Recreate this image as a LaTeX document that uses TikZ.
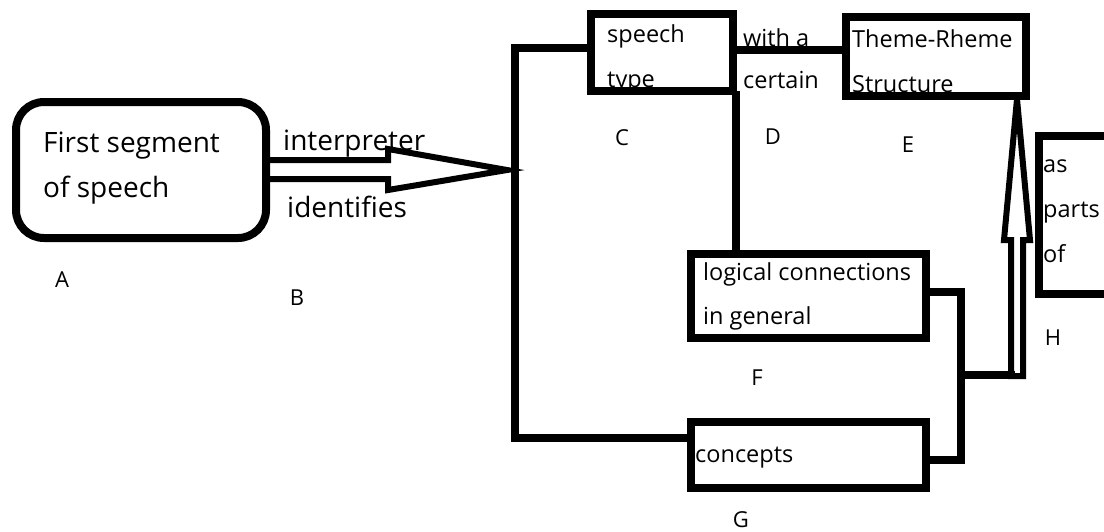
\documentclass[tikz,border=0pt]{standalone}
\usepackage{fontspec}
\setmainfont{Open Sans}
\begin{document}
\begin{tikzpicture}[x=1pt,y=-1pt,
  box/.style={draw=black,line width=8pt,inner sep=0pt,minimum width=#1,fill=none},
  conn/.style={line width=8pt,line cap=rect},
  hollow/.style={line width=6pt,line join=miter},
  big/.style={anchor=base west,inner sep=0pt,font=\fontsize{28}{34}\selectfont},
  mid/.style={anchor=base west,inner sep=0pt,font=\fontsize{23.5}{28}\selectfont},
  lab/.style={anchor=center,inner sep=0pt,font=\fontsize{22}{26}\selectfont}]
\useasboundingbox (0,0) rectangle (1104,531);
\clip (0,0) rectangle (1104,531);
% boxes
\node[box=250pt,minimum height=136pt,rounded corners=28pt] (A) at (141,170) {};
\node[box=142pt,minimum height=77pt] (C) at (662,52.5) {};
\node[box=180pt,minimum height=79pt] (E) at (936,56.5) {};
\node[box=235pt,minimum height=84pt] (F) at (808.5,296) {};
\node[box=235pt,minimum height=66pt] (G) at (808.5,455) {};
\node[box=110pt,minimum height=158pt] (H) at (1094,215) {};
% texts
\node[big] (a1) at (43,152) {First segment};
\node[big] (a2) at (43,197) {of speech};
\node[big] (b1) at (283,150) {interpreter};
\node[big] (b2) at (287,217) {identifies};
\node[mid] (c1) at (607,42) {speech};
\node[mid] (c2) at (607,87) {type};
\node[mid] (d1) at (743,46) {with a};
\node[mid] (d2) at (743,88) {certain};
\node[mid] (e1) at (852,47) {Theme-Rheme};
\node[mid] (e2) at (852,92) {Structure};
\node[mid] (f1) at (703,280) {logical connections};
\node[mid] (f2) at (703,324) {in general};
\node[mid] (g1) at (695,462) {concepts};
\node[mid] (h1) at (1043,172) {as};
\node[mid] (h2) at (1043,217) {parts};
\node[mid] (h3) at (1043,262) {of};
% letter labels
\node[lab] (LA) at (62,280) {A};
\node[lab] (LB) at (297,298) {B};
\node[lab] (LC) at (622,138) {C};
\node[lab] (LD) at (773,137) {D};
\node[lab] (LE) at (908,145) {E};
\node[lab] (LF) at (757,378) {F};
\node[lab] (LG) at (741,520) {G};
\node[lab] (LH) at (1053,338) {H};
% coordinates
\coordinate (t1) at (515,48);
\coordinate (t2) at (515,438);
\coordinate (tipL) at (507,170);
\coordinate (j1) at (961,292);
\coordinate (j2) at (961,460);
\coordinate (j) at (961,375);
\coordinate (uptip) at (1017,99);
% connectors
\draw[conn] (C.west |- t1) -- (t1) -- (t2) -- (t2 -| G.west);
\draw[conn] (C.east |- 0,50) -- (E.west |- 0,50);
\draw[conn] ([xshift=-1pt]C.south east) -- ([xshift=-1pt]C.south east |- F.north);
\draw[conn] (F.east |- j1) -- (j1) -- (j2) -- (G.east |- j2);
\draw[conn] (j) -- (1011,375);
% hollow arrows
\draw[hollow] (A.east |- 0,160) -- (388,160) -- (388,149) -- (tipL) -- (388,190) -- (388,179) -- (A.east |- 0,179);
\draw[hollow] (1011,376) -- (1011,240) -- (1004,240) -- (uptip) -- (1030,240) -- (1023,240) -- (1023,376) -- cycle;
\end{tikzpicture}
\end{document}
